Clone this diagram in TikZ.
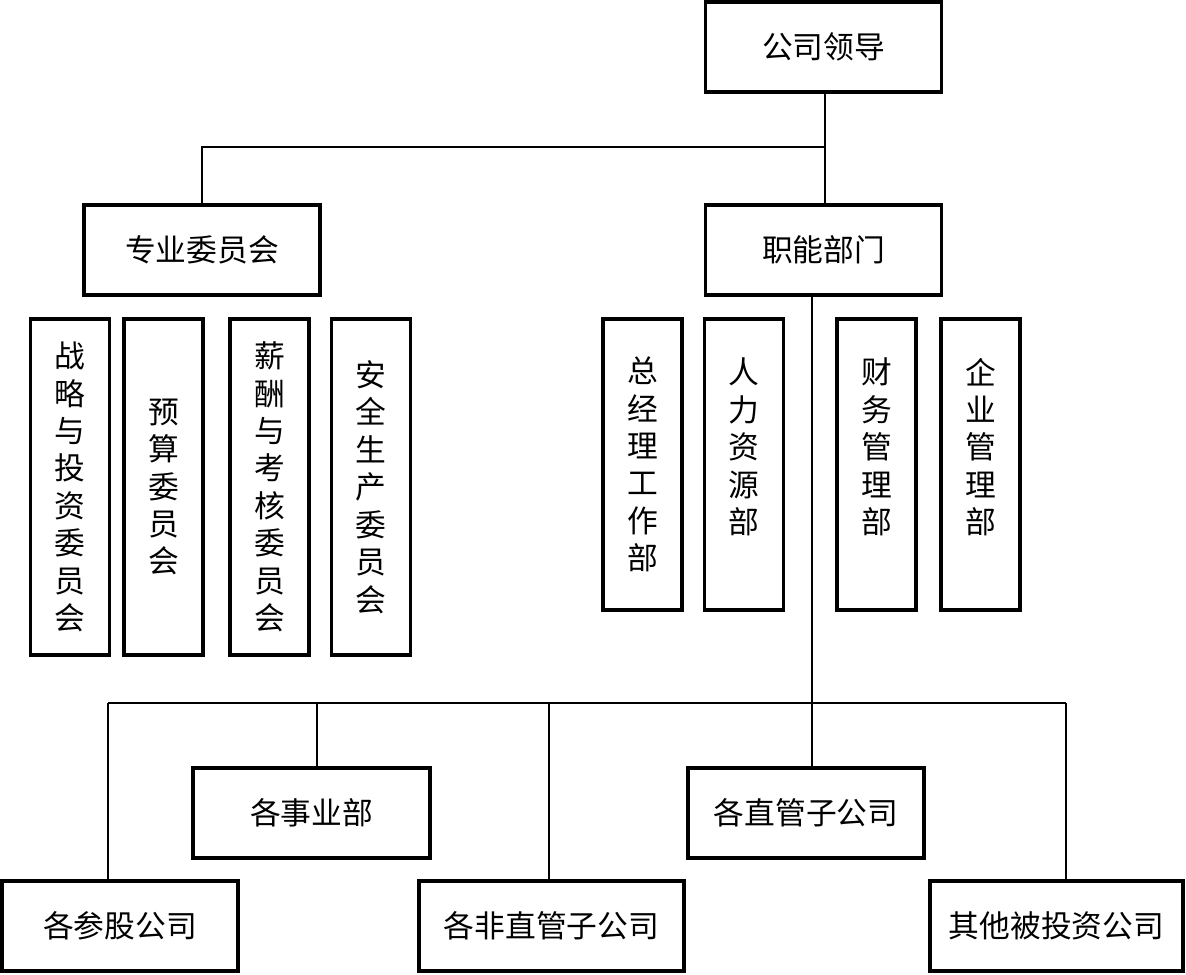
\documentclass[tikz,border=0pt]{standalone}
\usepackage{fontspec}
\newfontfamily\cjk{Noto Sans CJK SC}
\usetikzlibrary{positioning,calc}

\begin{document}
\begin{tikzpicture}[x=0.02cm,y=-0.02cm,
  font=\cjk\fontsize{17.5}{21.3}\selectfont,
  hbox/.style={draw,line width=2.2pt,minimum width=4.72cm,minimum height=1.8cm,inner sep=0pt},
  vbox/.style={draw,line width=2.2pt,minimum width=1.58cm,minimum height=6.72cm,align=center,inner sep=0pt},
  dbox/.style={vbox,minimum height=5.82cm},
  link/.style={line width=1.1pt}]
  \useasboundingbox (0,0) rectangle (1186,974);
  \node[hbox] (lead) at (823.5,47)  {公司领导};
  \node[hbox] (comm) at (202,250)   {专业委员会};
  \node[hbox] (func) at (823.5,250) {职能部门};
  \node[vbox] (c1) at (70,487)    {战\\略\\与\\投\\资\\委\\员\\会};
  \node[vbox] (c2) at (163.5,487) {预\\算\\委\\员\\会};
  \node[vbox] (c3) at (269.5,487) {薪\\酬\\与\\考\\核\\委\\员\\会};
  \node[vbox] (c4) at (371,487)   {安\\全\\生\\产\\委\\员\\会};
  \node[dbox] (d1) at (642.5,464.5) {总\\经\\理\\工\\作\\部};
  \node[dbox] (d2) at (744,464.5)   {人\\力\\资\\源\\部\\~};
  \node[dbox] (d3) at (876.5,464.5) {财\\务\\管\\理\\部\\~};
  \node[dbox] (d4) at (980.5,464.5) {企\\业\\管\\理\\部\\~};
  \node[hbox,minimum width=4.74cm] (bu) at (311.5,813) {各事业部};
  \node[hbox] (zg) at (806,813)    {各直管子公司};
  \node[hbox] (cg) at (120,926)    {各参股公司};
  \node[hbox,minimum width=5.3cm]  (fz) at (551.5,926) {各非直管子公司};
  \node[hbox,minimum width=5.06cm] (qt) at (1056.5,926) {其他被投资公司};
  \coordinate (top)  at (825,147);
  \coordinate (hub)  at (812,703);
  \coordinate (busL) at (108,703);
  \coordinate (busR) at (1066,703);
  \draw[link] (lead.south -| top) -- (func.north -| top);
  \draw[link] (comm.north) |- (top);
  \draw[link] (func.south -| hub) -- (zg.north -| hub);
  \draw[link] (busL) -- (busR);
  \draw[link] (busL) -- (cg.north -| busL);
  \draw[link] (busR) -- (qt.north -| busR);
  \draw[link] (hub -| 317,0) -- (bu.north -| 317,0);
  \draw[link] (hub -| 549,0) -- (fz.north -| 549,0);
\end{tikzpicture}
\end{document}
